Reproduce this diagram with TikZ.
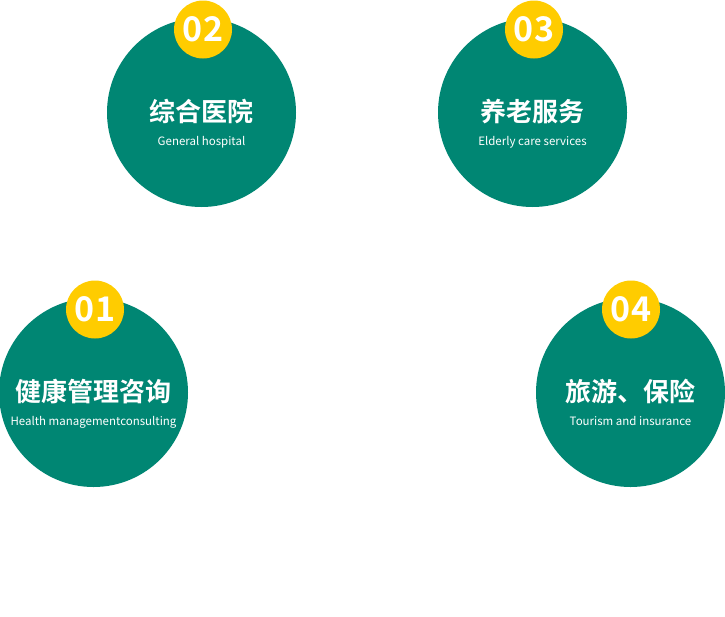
\documentclass[tikz,border=0pt]{standalone}
\usepackage{fontspec}
\setmainfont{Noto Sans CJK SC}
\newfontfamily\cjkbold{Noto Sans CJK SC Bold}
\usetikzlibrary{positioning}
\definecolor{teal}{HTML}{008673}
\definecolor{gold}{HTML}{FFCC00}
\tikzset{
    disc/.style={circle,fill=teal,minimum size=189pt,inner sep=0pt},
    badge/.style={circle,fill=gold,minimum size=58pt,inner sep=0pt,text=white,
        font=\cjkbold\fontsize{34}{34}\selectfont},
    title/.style={text=white,inner sep=0pt,font=\cjkbold\fontsize{26}{26}\selectfont},
    subtitle/.style={text=white,inner sep=0pt,font=\fontsize{11.5}{11.5}\selectfont}
}
\begin{document}
\begin{tikzpicture}[x=1pt,y=-1pt]
    \useasboundingbox (0,0) rectangle (725,616);
    
    % Circles with their titles
    \foreach \n/\x/\y/\bx/\by/\num/\ttl/\sub in {
        1/93.5/392.5/95/308.5/01/健康管理咨询/Health managementconsulting,
        2/201.5/112.5/203/28.5/02/综合医院/General hospital,
        3/532.5/112.5/534/28.5/03/养老服务/Elderly care services,
        4/630.5/392.5/631/308.5/04/旅游、保险/Tourism and insurance} {
        \node[disc] (c\n) at (\x,\y) {};
        \node[title] (t\n) at (\x,\y-1) {\ttl};
        \node[subtitle,below=12pt of t\n] (s\n) {\sub};
        % Number badge
        \node[badge] (b\n) at (\bx,\by+1) {\num};
    }
\end{tikzpicture}
\end{document}
